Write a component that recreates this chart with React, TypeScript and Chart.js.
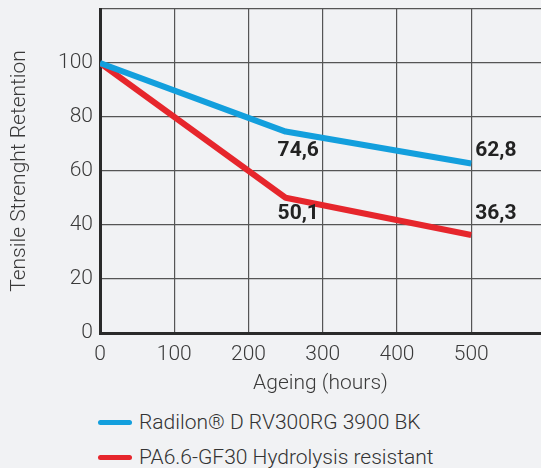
import React, { useEffect, useRef } from "react";
import { Chart, registerables } from "chart.js";

Chart.register(...registerables);

const hours = [0, 250, 500];
const radilon = [100, 74.6, 62.8];
const pa66 = [100, 50.1, 36.3];
const seriesNames = ["Radilon\u00ae D RV300RG 3900 BK", "PA6.6-GF30 Hydrolysis resistant"];
const seriesColors = ["#139fdd", "#e6262c"];
const yTicks = [0, 20, 40, 60, 80, 100];
const xTicks = [0, 100, 200, 300, 400, 500];
const labelIndexes = [1, 2];
// label offsets [dx, dy] per dataset per labelled point
const labelOffsets = [
  [[-8, 19], [4, -13]],
  [[-8, 16], [4, -21]],
];

const TEXT = "#3a3a3a";
const FONT = "Roboto";

const valueLabels = {
  id: "valueLabels",
  afterDatasetsDraw(chart: any) {
    const ctx = chart.ctx;
    ctx.save();
    ctx.font = `bold 21px ${FONT}`;
    ctx.fillStyle = "#222";
    ctx.textAlign = "left";
    ctx.textBaseline = "middle";
    chart.data.datasets.forEach((ds: any, di: number) => {
      const meta = chart.getDatasetMeta(di);
      labelIndexes.forEach((idx, k) => {
        const pt = meta.data[idx];
        const v = ds.data[idx].y;
        const [dx, dy] = labelOffsets[di][k];
        ctx.fillText(v.toFixed(1).replace(".", ","), pt.x + dx, pt.y + dy);
      });
    });
    ctx.restore();
  },
};

export default function App() {
  const ref = useRef<HTMLCanvasElement>(null);
  useEffect(() => {
    if (!ref.current) return;
    const chart = new Chart(ref.current, {
      type: "line",
      data: {
        datasets: [radilon, pa66].map((vals, i) => ({
          label: seriesNames[i],
          data: vals.map((v, j) => ({ x: hours[j], y: v })),
          borderColor: seriesColors[i],
          backgroundColor: seriesColors[i],
          borderWidth: 6,
          pointRadius: 0,
          borderJoinStyle: "round" as const,
          tension: 0,
        })),
      },
      options: {
        animation: false,
        responsive: false,
        maintainAspectRatio: false,
        layout: { padding: { top: 9, right: 0, left: 0, bottom: 0 } },
        plugins: { legend: { display: false }, tooltip: { enabled: false } },
        scales: {
          x: {
            type: "linear",
            min: 0,
            max: 594,
            afterFit: (s: any) => { s.height = 67; s.paddingRight = 0; },
            afterBuildTicks: (s: any) => { s.ticks = xTicks.map((v) => ({ value: v })); },
            ticks: { color: TEXT, font: { family: FONT, size: 21, weight: 300 as any }, padding: 9, maxRotation: 0 },
            grid: { color: "#555", lineWidth: 1.2, drawTicks: false },
            border: { color: "#2a2a2a", width: 3 },
            title: { display: true, text: "Ageing (hours)", color: TEXT, font: { family: FONT, size: 21, weight: 300 as any }, padding: { top: 0, bottom: 4 } },
          },
          y: {
            min: 0,
            max: 120,
            afterFit: (s: any) => { s.width = 100; s.paddingTop = 0; },
            afterBuildTicks: (s: any) => { s.ticks = [...yTicks, 120].map((v) => ({ value: v })); },
            ticks: {
              color: TEXT,
              font: { family: FONT, size: 21, weight: 300 as any },
              padding: 7,
              callback: (v: any) => (yTicks.includes(Number(v)) ? String(v) : ""),
            },
            grid: { color: "#555", lineWidth: 1.2, drawTicks: false },
            border: { color: "#2a2a2a", width: 3 },
            title: { display: true, text: "Tensile Strenght Retention", color: TEXT, font: { family: FONT, size: 21, weight: 300 as any }, padding: { top: 7, bottom: 0 } },
          },
        },
      },
      plugins: [valueLabels],
    });
    return () => chart.destroy();
  }, []);

  return (
    <div style={{ position: "fixed", left: 0, top: 0, width: 541, height: 468, background: "#f1f2f4", overflow: "hidden" }}>
      <canvas ref={ref} width={541} height={400} style={{ position: "absolute", left: 0, top: 0, width: 541, height: 400 }} />
      {seriesNames.map((name, i) => (
        <div key={name} style={{ position: "absolute", left: 98, top: 422 + i * 35 - 15, height: 30, display: "flex", alignItems: "center", fontFamily: FONT, fontWeight: 300, fontSize: 21, color: "#333", whiteSpace: "nowrap" }}>
          <div style={{ width: 34, height: 5, borderRadius: 3, background: seriesColors[i], marginRight: 7 }} />
          <span>{name}</span>
        </div>
      ))}
    </div>
  );
}
